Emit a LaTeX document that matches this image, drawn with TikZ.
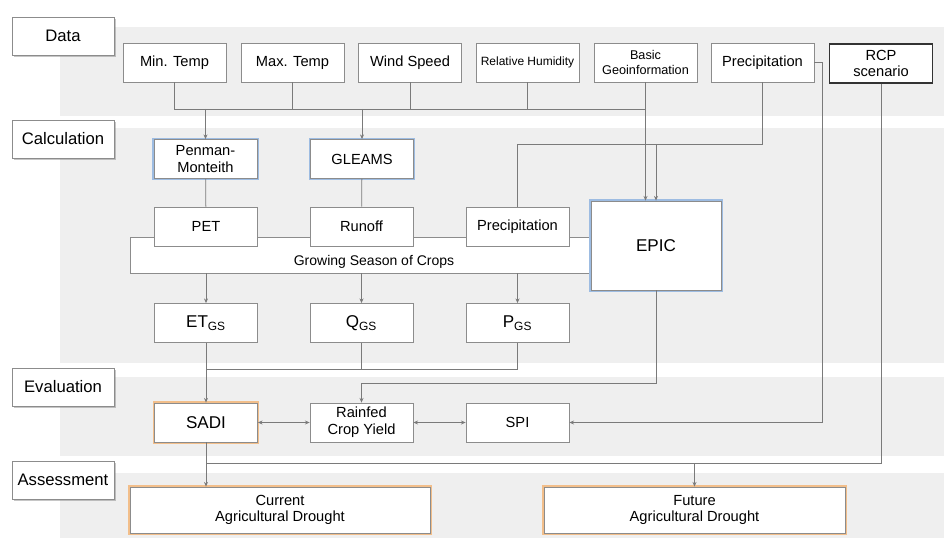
\documentclass[tikz,border=0pt]{standalone}
\usepackage{fontspec}
\setmainfont{Liberation Sans}
\usepackage{xcolor}
\usetikzlibrary{arrows.meta,positioning,shadows,calc}

\definecolor{band}{HTML}{EFEFEF}
\definecolor{edge}{HTML}{8C8C8C}
\definecolor{wire}{HTML}{7A7A7A}
\definecolor{glowblue}{HTML}{9DBCE2}
\definecolor{gloworange}{HTML}{F2BE8A}

\begin{document}
\begin{tikzpicture}[
  x=0.75pt, y=-0.75pt,
  box/.style={draw=edge, fill=white, line width=0.6pt,
              minimum width=77.25pt, minimum height=29.25pt,
              inner sep=1pt, align=center, font=\fontsize{11}{12.5}\selectfont},
  lbl/.style={draw=edge, fill=white, line width=0.7pt,
              minimum width=76.5pt, minimum height=28.5pt,
              font=\fontsize{12.5}{14}\selectfont,
              drop shadow={shadow xshift=1.2pt, shadow yshift=-1.2pt, opacity=0.45}},
  model/.style={box, preaction={draw=glowblue, line width=2.6pt}},
  result/.style={box, preaction={draw=gloworange, line width=2.6pt}},
  ln/.style={draw=wire, line width=0.6pt},
  arr/.style={ln, -{Stealth[length=3.5pt,width=3pt]}},
  darr/.style={ln, {Stealth[length=3.5pt,width=3pt]}-{Stealth[length=3.5pt,width=3pt]}}
]
\useasboundingbox (0,0) rectangle (944,538);

% stage bands
\fill[band] (60,27)  rectangle (944,116);
\fill[band] (60,128) rectangle (944,363);
\fill[band] (60,377) rectangle (944,456);
\fill[band] (60,473) rectangle (944,538);

% stage labels
\node[lbl] (sdata)   at (63,36)  {Data};
\node[lbl] (scalc)   at (63,139) {Calculation};
\node[lbl] (seval)   at (63,387) {Evaluation};
\node[lbl] (sassess) at (63,480) {Assessment};

% input data
\node[box] (mintemp) at (174.5,62.5) {Min. Temp};
\node[box] (maxtemp) at (292.5,62.5) {Max. Temp};
\node[box] (wind)    at (410,62.5)   {Wind Speed};
\node[box, font=\fontsize{9}{10}\selectfont] (rh) at (527.5,62.5) {Relative Humidity};
\node[box, font=\fontsize{9.5}{11.5}\selectfont] (geo) at (645.5,62.5) {Basic\\Geoinformation};
\node[box] (precip)  at (762.5,62.5) {Precipitation};
\node[box, draw=black!80, line width=1.1pt] (rcp) at (881,63.5) {RCP\\scenario};

% calculation
\node[model] (penman) at (205.5,159) {Penman-\\Monteith};
\node[model] (gleams) at (362,159)   {GLEAMS};
\node[box, minimum width=365.25pt, minimum height=27pt,
      label={[yshift=-5pt, font=\fontsize{10.5}{12}\selectfont]center:Growing Season of Crops}]
      (season) at (374,255) {};
\node[box] (pet)     at (206,226.5)   {PET};
\node[box] (runoff)  at (361.5,226.5) {Runoff};
\node[box] (precipc) at (517.5,226.5) {Precipitation};
\node[model, minimum width=97.5pt, minimum height=66.75pt,
      font=\fontsize{12.8}{14}\selectfont] (epic) at (656,245.5) {EPIC};
\node[box, font=\fontsize{12.8}{14}\selectfont] (etgs) at (206,323)   {ET\textsubscript{GS}};
\node[box, font=\fontsize{12.8}{14}\selectfont] (qgs)  at (361.5,323) {Q\textsubscript{GS}};
\node[box, font=\fontsize{12.8}{14}\selectfont] (pgs)  at (517.5,323) {P\textsubscript{GS}};

% evaluation
\node[result, font=\fontsize{12.8}{14}\selectfont] (sadi) at (206,422.5) {SADI};
\node[box] (rainfed) at (361.5,422.5) {Rainfed\\Crop Yield};
\node[box] (spi)     at (517.5,422.5) {SPI};

% assessment
\node[result, minimum width=225pt, minimum height=34.5pt] (current) at (280,510) {Current\\Agricultural Drought};
\node[result, minimum width=225.75pt, minimum height=34.5pt] (future) at (694.5,510) {Future\\Agricultural Drought};

% connectors
\coordinate (bus)   at (0,109);
\coordinate (pline) at (0,144);
\coordinate (gline) at (0,369);
\coordinate (eline) at (0,383);
\coordinate (fline) at (0,463);
\coordinate (pr)    at (822,0);

\draw[ln] (mintemp.south) -- (mintemp.south |- bus) -- (geo.south |- bus);
\foreach \n in {maxtemp,wind,rh}
  \draw[ln] (\n.south) -- (\n.south |- bus);
\draw[arr] (penman.north |- bus) -- (penman.north);
\draw[arr] (gleams.north |- bus) -- (gleams.north);
\draw[arr] (geo.south) -- (geo.south |- epic.north);
\draw[ln] (precip.south) -- (precip.south |- pline) -| (precipc.north);
\draw[arr] (epic.north |- pline) -- (epic.north);
\draw[arr] (precip.east) -| (pr |- spi.east) -- (spi.east);

\draw[ln] (penman) -- (pet);
\draw[ln] (gleams) -- (runoff);
\foreach \n in {etgs,qgs,pgs}
  \draw[arr] (season.south -| \n) -- (\n.north);

\draw[arr] (etgs) -- (sadi);
\draw[ln] (pgs.south) |- (etgs.south |- gline);
\draw[ln] (qgs.south) -- (qgs.south |- gline);
\draw[arr] (epic.south) |- (rainfed.north |- eline) -- (rainfed.north);

\draw[darr] (sadi) -- (rainfed);
\draw[darr] (rainfed) -- (spi);

\draw[arr] (sadi.south) -- (sadi.south |- current.north);
\draw[ln] (rcp.south) |- (sadi.south |- fline);
\draw[arr] (future.north |- fline) -- (future.north);
\end{tikzpicture}
\end{document}
